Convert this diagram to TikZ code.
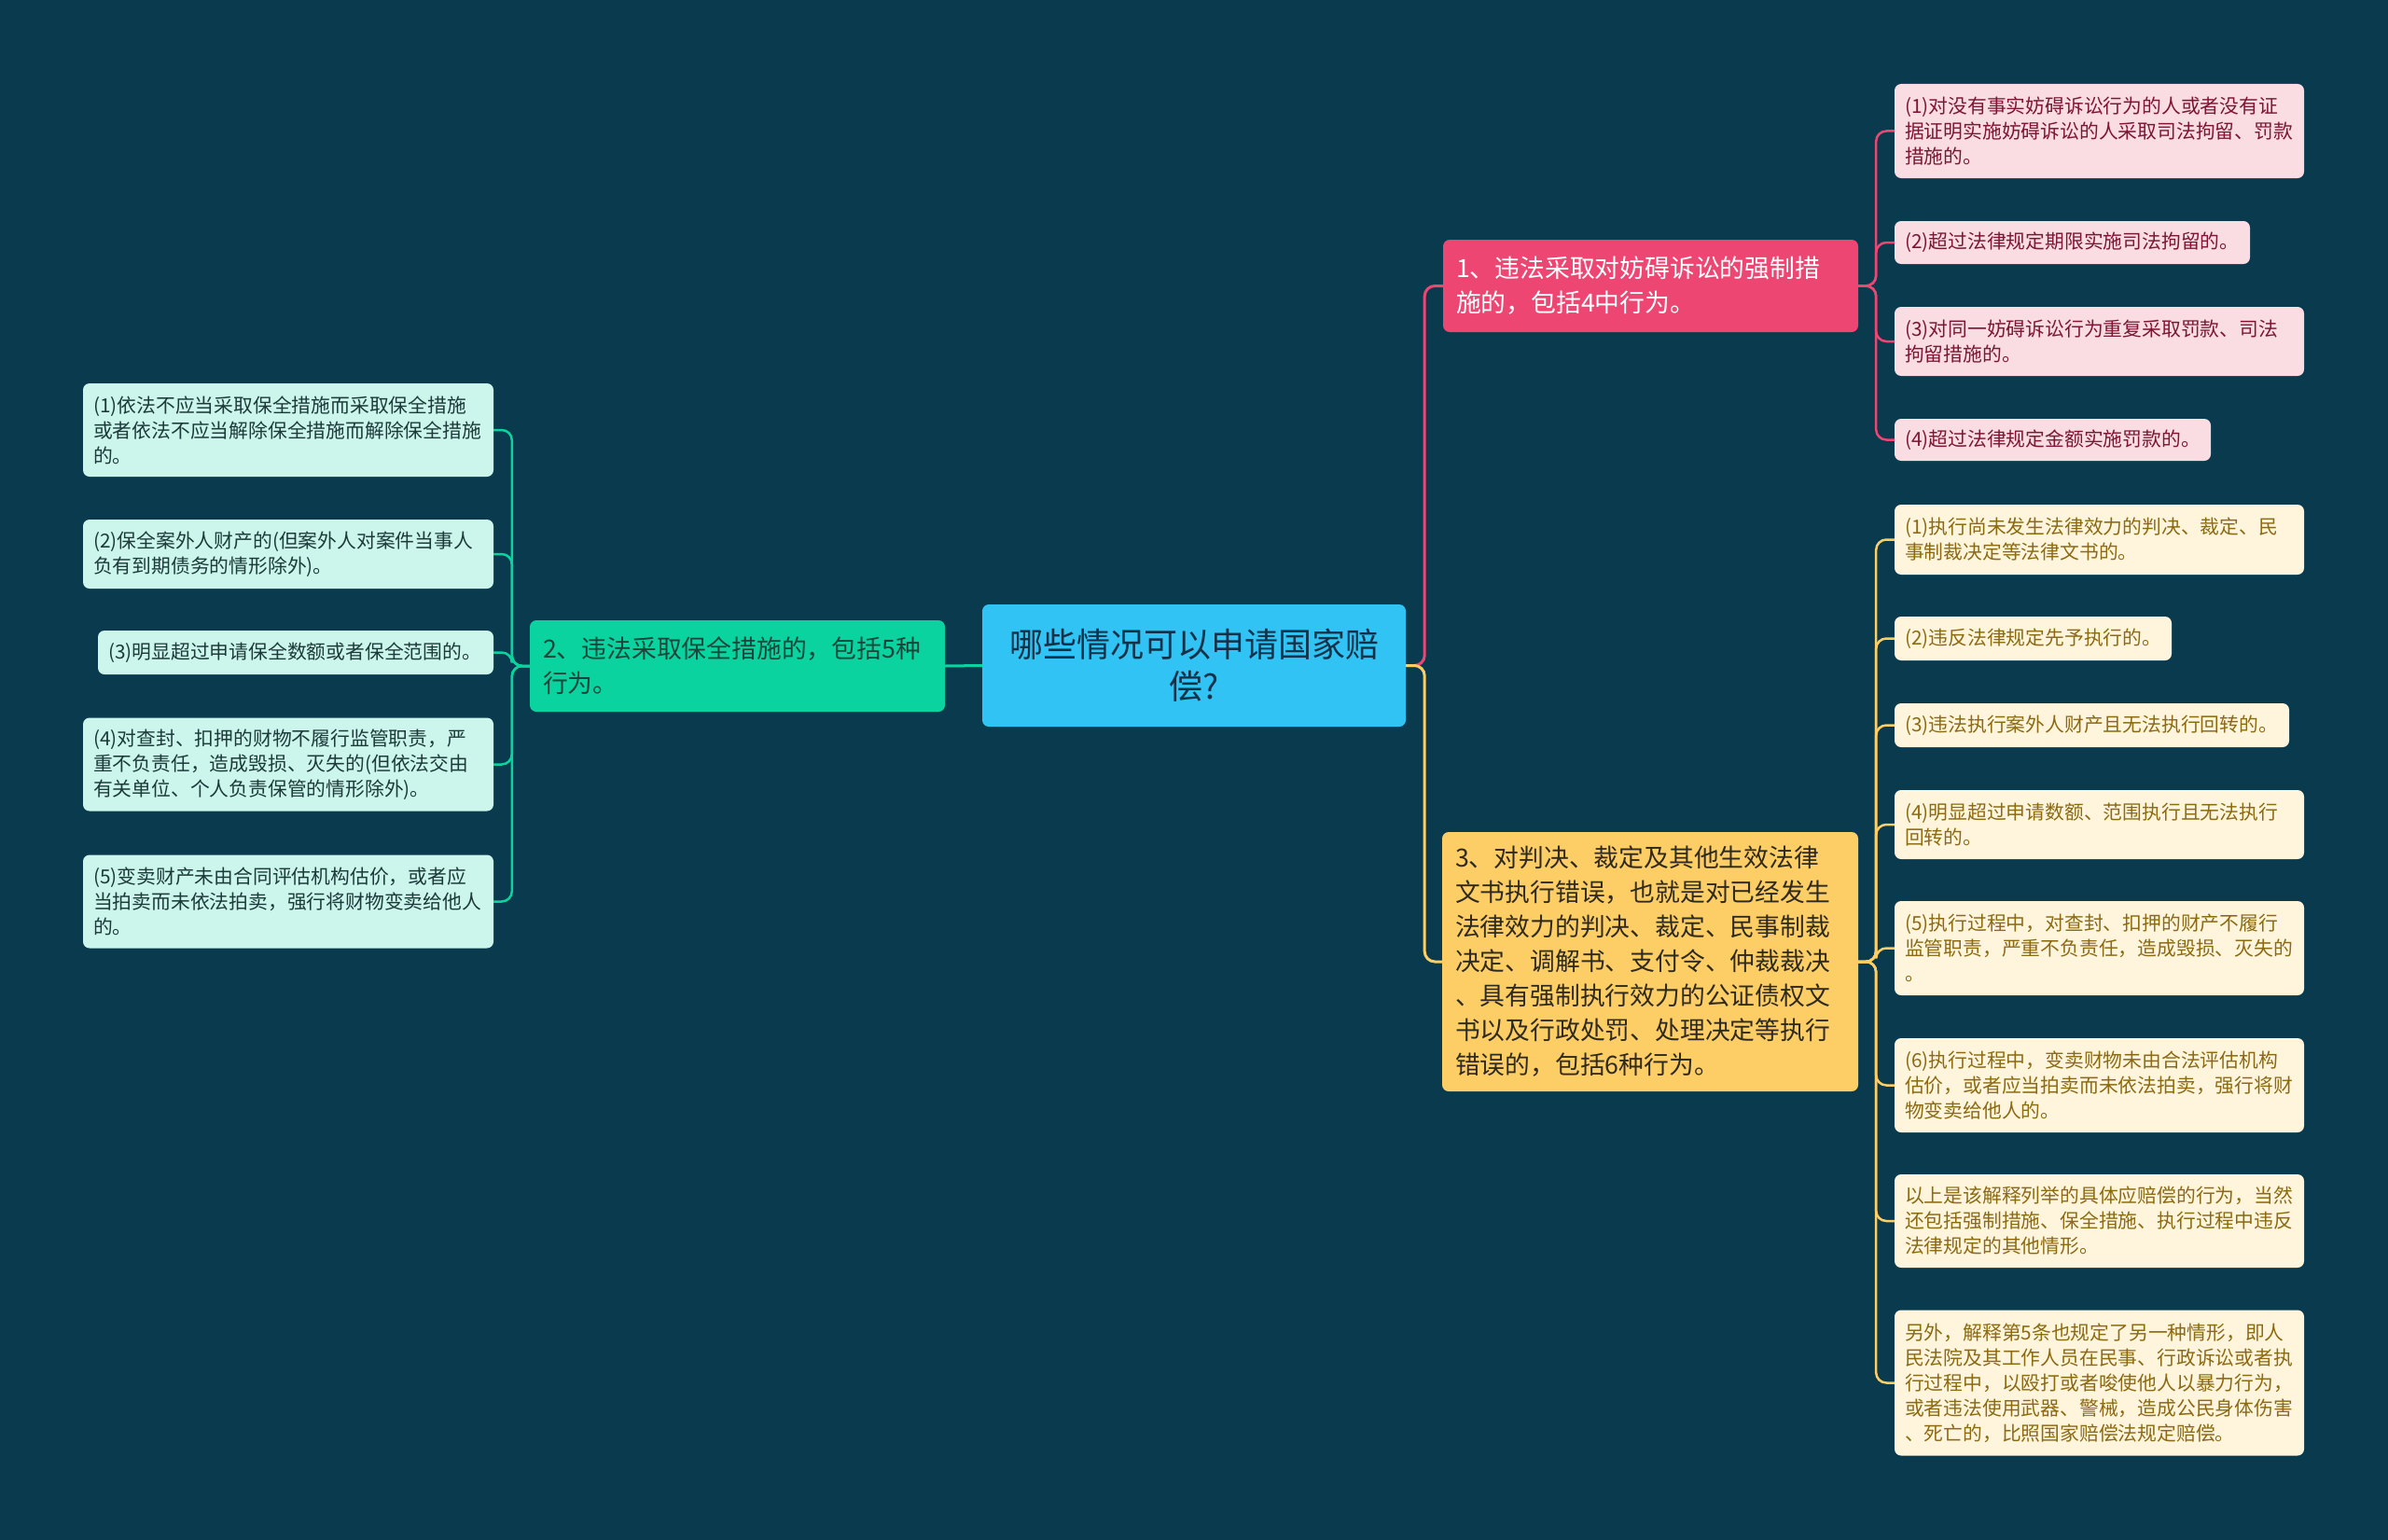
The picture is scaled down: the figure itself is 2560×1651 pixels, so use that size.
\documentclass[tikz,border=0pt]{standalone}
\usepackage{fontspec}
\setmainfont{Noto Sans CJK SC}
\definecolor{bg}{HTML}{093A4E}
\definecolor{cfill}{HTML}{30C3F3}
\definecolor{ctext}{HTML}{13324A}
\definecolor{rfill}{HTML}{EE4672}
\definecolor{gfill}{HTML}{0BD3A0}
\definecolor{gtext}{HTML}{18463A}
\definecolor{yfill}{HTML}{FDCE65}
\definecolor{ytext}{HTML}{2F2A1E}
\definecolor{rlfill}{HTML}{FADCE3}
\definecolor{rltext}{HTML}{7C1634}
\definecolor{ylfill}{HTML}{FEF5DC}
\definecolor{yltext}{HTML}{8C6A12}
\definecolor{glfill}{HTML}{CCF6EC}
\definecolor{gltext}{HTML}{1C3A3A}
\tikzset{
  box/.style={rounded corners=7pt, inner ysep=0pt},
  rootbox/.style={box, fill=cfill, text=ctext, align=center, inner xsep=11pt,
    font=\fontsize{36}{45}\selectfont},
  branch/.style={box, align=left, inner xsep=14pt, font=\fontsize{26.8}{37}\selectfont},
  leaf/.style={box, align=left, inner xsep=11pt, font=\fontsize{20.8}{27}\selectfont},
  rleaf/.style={leaf, fill=rlfill, text=rltext},
  yleaf/.style={leaf, fill=ylfill, text=yltext},
  gleaf/.style={leaf, fill=glfill, text=gltext},
  conn/.style={line width=3pt, rounded corners=11pt},
  rline/.style={conn, draw=rfill},
  yline/.style={conn, draw=yfill},
  gline/.style={conn, draw=gfill},
}
\begin{document}
\begin{tikzpicture}[x=1pt,y=-1pt]
\fill[bg] (0,0) rectangle (2560,1651);
\useasboundingbox (0,0) rectangle (2560,1651);

% root
\node[rootbox, text width=432pt, minimum height=131pt] (c) at (1280,713.5)
  {哪些情况可以申请国家赔\\偿?};

% branches
\node[branch, fill=rfill, text=white, text width=417pt, minimum height=99pt] (n1) at (1769.5,306.5)
  {1、违法采取对妨碍诉讼的强制措\\施的，包括4中行为。};
\node[branch, fill=gfill, text=gtext, text width=417pt, minimum height=98pt] (n2) at (790.5,714)
  {2、违法采取保全措施的，包括5种\\行为。};
\node[branch, fill=yfill, text=ytext, text width=418pt, minimum height=278pt] (n3) at (1769,1031)
  {3、对判决、裁定及其他生效法律\\文书执行错误，也就是对已经发生\\法律效力的判决、裁定、民事制裁\\决定、调解书、支付令、仲裁裁决\\、具有强制执行效力的公证债权文\\书以及行政处罚、处理决定等执行\\错误的，包括6种行为。};

% red leaves
\node[rleaf, text width=417pt, minimum height=101pt] (r1) at (2250.5,140.5)
  {(1)对没有事实妨碍诉讼行为的人或者没有证\\据证明实施妨碍诉讼的人采取司法拘留、罚款\\措施的。};
\node[rleaf, text width=359pt, minimum height=46pt] (r2) at (2221.5,260)
  {(2)超过法律规定期限实施司法拘留的。};
\node[rleaf, text width=417pt, minimum height=74pt] (r3) at (2250.5,366)
  {(3)对同一妨碍诉讼行为重复采取罚款、司法\\拘留措施的。};
\node[rleaf, text width=317pt, minimum height=45pt] (r4) at (2200.5,471.5)
  {(4)超过法律规定金额实施罚款的。};

% yellow leaves
\node[yleaf, text width=417pt, minimum height=75pt] (y1) at (2250.5,578.5)
  {(1)执行尚未发生法律效力的判决、裁定、民\\事制裁决定等法律文书的。};
\node[yleaf, text width=275pt, minimum height=47pt] (y2) at (2179.5,684.5)
  {(2)违反法律规定先予执行的。};
\node[yleaf, text width=401pt, minimum height=47pt] (y3) at (2242.5,777.5)
  {(3)违法执行案外人财产且无法执行回转的。};
\node[yleaf, text width=417pt, minimum height=74pt] (y4) at (2250.5,884)
  {(4)明显超过申请数额、范围执行且无法执行\\回转的。};
\node[yleaf, text width=417pt, minimum height=101pt] (y5) at (2250.5,1016.5)
  {(5)执行过程中，对查封、扣押的财产不履行\\监管职责，严重不负责任，造成毁损、灭失的\\。};
\node[yleaf, text width=417pt, minimum height=101pt] (y6) at (2250.5,1163.5)
  {(6)执行过程中，变卖财物未由合法评估机构\\估价，或者应当拍卖而未依法拍卖，强行将财\\物变卖给他人的。};
\node[yleaf, text width=417pt, minimum height=100pt] (y7) at (2250.5,1309)
  {以上是该解释列举的具体应赔偿的行为，当然\\还包括强制措施、保全措施、执行过程中违反\\法律规定的其他情形。};
\node[yleaf, text width=417pt, minimum height=156pt] (y8) at (2250.5,1482.5)
  {另外，解释第5条也规定了另一种情形，即人\\民法院及其工作人员在民事、行政诉讼或者执\\行过程中，以殴打或者唆使他人以暴力行为，\\或者违法使用武器、警械，造成公民身体伤害\\、死亡的，比照国家赔偿法规定赔偿。};

% green leaves
\node[gleaf, text width=418pt, minimum height=100pt] (l1) at (309,461)
  {(1)依法不应当采取保全措施而采取保全措施\\或者依法不应当解除保全措施而解除保全措施\\的。};
\node[gleaf, text width=418pt, minimum height=74pt] (l2) at (309,594)
  {(2)保全案外人财产的(但案外人对案件当事人\\负有到期债务的情形除外)。};
\node[gleaf, text width=402pt, minimum height=47pt] (l3) at (317,699.5)
  {(3)明显超过申请保全数额或者保全范围的。};
\node[gleaf, text width=418pt, minimum height=100pt] (l4) at (309,819.5)
  {(4)对查封、扣押的财物不履行监管职责，严\\重不负责任，造成毁损、灭失的(但依法交由\\有关单位、个人负责保管的情形除外)。};
\node[gleaf, text width=418pt, minimum height=100pt] (l5) at (309,966.5)
  {(5)变卖财产未由合同评估机构估价，或者应\\当拍卖而未依法拍卖，强行将财物变卖给他人\\的。};

% connectors root
\draw[rline] (c.east) -- ++(20,0) |- (n1.west);
\draw[yline] (c.east) -- ++(20,0) |- (n3.west);
\draw[gline] (c.west) -- (n2.east);

% connectors branch 1
\foreach \t in {r1,r2,r3,r4}
  \draw[rline, line width=2.5pt] (n1.east) -- ++(19,0) |- (\t.west);
% branch 3
\foreach \t in {y1,y2,y3,y4,y5,y6,y7,y8}
  \draw[yline, line width=2.5pt] (n3.east) -- ++(19,0) |- (\t.west);
% branch 2
\foreach \t in {l1,l2,l3,l4,l5}
  \draw[gline, line width=2.5pt] (n2.west) -- ++(-19,0) |- (\t.east);
\end{tikzpicture}
\end{document}
